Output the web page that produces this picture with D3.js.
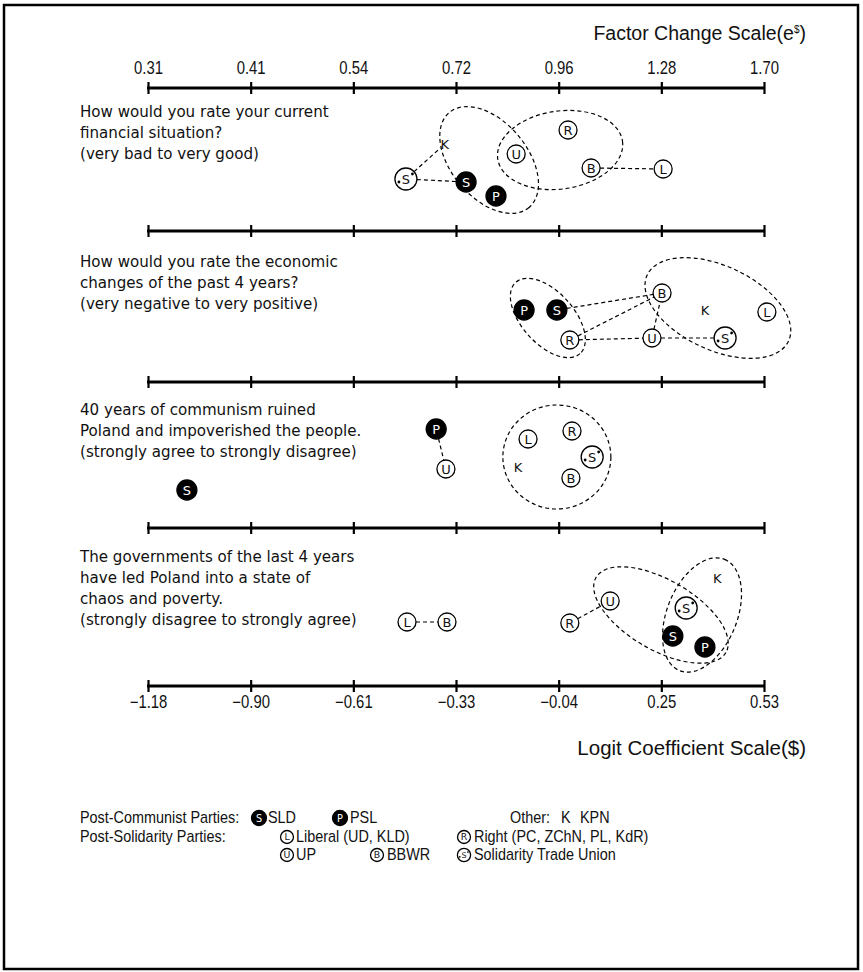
<!DOCTYPE html>
<html><head><meta charset="utf-8">
<script src="https://cdn.jsdelivr.net/npm/d3@7"></script>
<style>body{margin:0;background:#fff}</style>
</head><body>
<svg id="chart" width="863" height="972"></svg>
<script>
// ---- scale endpoints and tick labels ----
const logitMin = -1.18, logitMax = 0.53;
const logitTickLabels = ["\u22121.18", "\u22120.90", "\u22120.61", "\u22120.33", "\u22120.04", "0.25", "0.53"];
const factorTickLabels = ["0.31", "0.41", "0.54", "0.72", "0.96", "1.28", "1.70"];

// ---- questions (one per panel) ----
const questions = [
  ["How would you rate your current", "financial situation?", "(very bad to very good)"],
  ["How would you rate the economic", "changes of the past 4 years?", "(very negative to very positive)"],
  ["40 years of communism ruined", "Poland and impoverished the people.", "(strongly agree to strongly disagree)"],
  ["The governments of the last 4 years", "have led Poland into a state of", "chaos and poverty.", "(strongly disagree to strongly agree)"]
];

// ---- party codes: S=SLD, P=PSL, L=Liberal, R=Right, U=UP, B=BBWR, Sol=Solidarity, K=KPN ----
// logit coefficients per panel, plus a vertical lane (height above the panel's axis)
const panel1Parties = ["Sol", "K", "S", "P", "U", "R", "B", "L"];
const panel1Coef    = [-0.464, -0.356, -0.297, -0.214, -0.158, -0.014, 0.050, 0.250];
const panel1Lane    = [52, 87, 49, 35, 77, 101, 63, 62];
const panel1Links   = [["Sol", "K"], ["Sol", "S"], ["B", "L"]];

const panel2Parties = ["P", "S", "R", "B", "U", "K", "L", "Sol"];
const panel2Coef    = [-0.136, -0.045, -0.009, 0.247, 0.219, 0.366, 0.538, 0.422];
const panel2Lane    = [72, 72, 42, 89, 44, 72, 70, 44];
const panel2Links   = [["S", "B"], ["R", "B"], ["R", "U"], ["U", "B"], ["U", "Sol"]];

const panel3Parties = ["S", "P", "U", "L", "R", "Sol", "K", "B"];
const panel3Coef    = [-1.072, -0.380, -0.353, -0.125, -0.003, 0.053, -0.153, -0.006];
const panel3Lane    = [38, 99, 59, 89, 97, 71, 61, 50];
const panel3Links   = [["P", "U"]];

const panel4Parties = ["L", "B", "R", "U", "Sol", "S", "P", "K"];
const panel4Coef    = [-0.461, -0.350, -0.009, 0.103, 0.314, 0.277, 0.366, 0.400];
const panel4Lane    = [64, 64, 63, 85, 78, 50, 39, 108];
const panel4Links   = [["L", "B"], ["R", "U"]];

// group enclosures: [centre coefficient, centre lane, radius x, radius y, rotation deg]
const panel1Groups = [[-0.233, 71, 62, 38, 50], [-0.036, 81, 63, 39, -8]];
const panel2Groups = [[-0.070, 64, 48, 26, 48], [0.402, 74, 78, 42, 25]];
const panel3Groups = [[-0.045, 71, 54, 52, 0]];
const panel4Groups = [[0.244, 71, 75, 35, 30], [0.358, 71, 60, 35, -68]];

// ---- legend ----
const legendRow1 = [["S", "SLD"], ["P", "PSL"]];
const legendRow2 = [["L", "Liberal (UD, KLD)"], ["R", "Right (PC, ZChN, PL, KdR)"]];
const legendRow3 = [["U", "UP"], ["B", "BBWR"], ["Sol", "Solidarity Trade Union"]];

const panels = [
  {parties: panel1Parties, coef: panel1Coef, lane: panel1Lane, links: panel1Links, groups: panel1Groups},
  {parties: panel2Parties, coef: panel2Coef, lane: panel2Lane, links: panel2Links, groups: panel2Groups},
  {parties: panel3Parties, coef: panel3Coef, lane: panel3Lane, links: panel3Links, groups: panel3Groups},
  {parties: panel4Parties, coef: panel4Coef, lane: panel4Lane, links: panel4Links, groups: panel4Groups}
];

// ---- layout ----
const SANS = "'Liberation Sans',Arial,Helvetica,sans-serif";
const TEXT = "'DejaVu Sans',Verdana,sans-serif";
const axisY = [88, 231, 382, 528, 686];
const questionY = [117, 267, 415, 562];
const lineGap = 21;

const svg = d3.select("#chart");
svg.append("rect").attr("x", 4).attr("y", 5).attr("width", 854).attr("height", 964)
  .attr("fill", "none").attr("stroke", "#000").attr("stroke-width", 2.5);

const x = d3.scaleLinear().domain([logitMin, logitMax]).range([148, 764]);
const tickVals = d3.range(7).map(i => logitMin + i * (logitMax - logitMin) / 6);

function drawAxis(y, kind) {
  const ax = (kind === "top" ? d3.axisTop(x) : d3.axisBottom(x))
    .tickValues(tickVals).tickSizeOuter(0).tickSizeInner(6)
    .tickPadding(kind === "top" ? 8 : 4)
    .tickFormat((d, i) => kind === "top" ? factorTickLabels[i] : kind === "bottom" ? logitTickLabels[i] : "");
  const g = svg.append("g").attr("transform", `translate(0,${y})`).call(ax);
  g.attr("font-family", SANS).attr("font-size", 17.5);
  g.select(".domain").remove();
  g.append("line").attr("x1", x(logitMin) - 1).attr("x2", x(logitMax) + 1)
    .attr("stroke", "#000").attr("stroke-width", 3);
  g.selectAll(".tick line").attr("y1", -6).attr("y2", 6).attr("stroke", "#000").attr("stroke-width", 2.2);
  g.selectAll(".tick text").attr("fill", "#111").attr("transform", "scale(0.85,1)");
}

drawAxis(axisY[0], "top");
drawAxis(axisY[1], "mid");
drawAxis(axisY[2], "mid");
drawAxis(axisY[3], "mid");
drawAxis(axisY[4], "bottom");

// axis titles
const t1 = svg.append("text").attr("x", 806).attr("y", 40).attr("text-anchor", "end")
  .attr("font-family", SANS).attr("font-size", 19.5).attr("fill", "#111");
t1.append("tspan").text("Factor Change Scale(e");
t1.append("tspan").attr("font-size", 10).attr("dy", -7).text("$");
t1.append("tspan").attr("dy", 7).text(")");
svg.append("text").attr("x", 806).attr("y", 755).attr("text-anchor", "end")
  .attr("font-family", SANS).attr("font-size", 20.5).attr("fill", "#111")
  .text("Logit Coefficient Scale($)");

// symbol radii by kind
function radiusOf(code, k) {
  if (code === "Sol") return 11 * k;
  if (code === "S" || code === "P") return 10 * k;
  if (code === "K") return 6 * k;
  return 9 * k;
}

function drawSymbol(parent, code, cx, cy, k) {
  const g = parent.append("g").attr("transform", `translate(${cx},${cy})`);
  const fs = 13 * k;
  if (code === "K") {
    g.append("text").attr("text-anchor", "middle").attr("dy", "0.36em")
      .attr("font-family", TEXT).attr("font-size", fs).attr("fill", "#111").text("K");
    return;
  }
  const filled = code === "S" || code === "P";
  g.append("circle").attr("r", radiusOf(code, k))
    .attr("fill", filled ? "#000" : "#fff").attr("stroke", "#000").attr("stroke-width", 1.3);
  const letter = code === "Sol" ? "S" : code;
  g.append("text").attr("text-anchor", "middle").attr("dy", "0.36em")
    .attr("font-family", TEXT).attr("font-size", fs)
    .attr("fill", filled ? "#fff" : "#111").text(letter);
  if (code === "Sol") {
    g.append("circle").attr("cx", -7 * k).attr("cy", 3 * k).attr("r", 1.4 * k).attr("fill", "#000");
    g.append("circle").attr("cx", 6.5 * k).attr("cy", -5 * k).attr("r", 1.4 * k).attr("fill", "#000");
  }
}

panels.forEach((p, i) => {
  const base = axisY[i + 1];
  const y = d3.scaleLinear().domain([0, 100]).range([base, base - 100]);
  const g = svg.append("g");

  // question text
  const q = g.append("text").attr("font-family", TEXT).attr("font-size", 15.1).attr("fill", "#111");
  questions[i].forEach((line, j) => {
    q.append("tspan").attr("x", 80).attr("y", questionY[i] + j * lineGap).text(line);
  });

  const pos = {};
  p.parties.forEach((c, j) => { pos[c] = [x(p.coef[j]), y(p.lane[j])]; });

  // group ellipses
  const pxPerUnit = y(0) - y(1);
  g.selectAll("ellipse.grp").data(p.groups).join("ellipse").attr("class", "grp")
    .attr("cx", d => x(d[0])).attr("cy", d => y(d[1]))
    .attr("rx", d => d[2] * pxPerUnit).attr("ry", d => d[3] * pxPerUnit)
    .attr("transform", d => `rotate(${d[4]},${x(d[0])},${y(d[1])})`)
    .attr("fill", "none").attr("stroke", "#000").attr("stroke-width", 1.2)
    .attr("stroke-dasharray", "4,3");

  // dashed links between parties that are not significantly different
  p.links.forEach(([a, b]) => {
    const [x1, y1] = pos[a], [x2, y2] = pos[b];
    const len = Math.hypot(x2 - x1, y2 - y1);
    const ra = radiusOf(a, 1), rb = radiusOf(b, 1);
    const ux = (x2 - x1) / len, uy = (y2 - y1) / len;
    g.append("line")
      .attr("x1", x1 + ux * ra).attr("y1", y1 + uy * ra)
      .attr("x2", x2 - ux * rb).attr("y2", y2 - uy * rb)
      .attr("stroke", "#000").attr("stroke-width", 1.2).attr("stroke-dasharray", "4,3");
  });

  p.parties.forEach(c => drawSymbol(g, c, pos[c][0], pos[c][1], 1));
});

// ---- legend ----
const lg = svg.append("g").attr("font-family", SANS).attr("font-size", 16).attr("fill", "#111");
function legendText(xp, yp, s) {
  lg.append("text").attr("transform", `translate(${xp},${yp}) scale(0.9,1)`).text(s);
}

legendText(80, 823, "Post-Communist Parties:");
[[259, 268], [340, 350]].forEach(([sx, tx], i) => {
  drawSymbol(lg, legendRow1[i][0], sx, 818, 0.75);
  legendText(tx, 823, legendRow1[i][1]);
});
legendText(510, 823, "Other:");
legendText(561, 823, "K");
legendText(580, 823, "KPN");

legendText(80, 842, "Post-Solidarity Parties:");
[[287, 296], [464, 474]].forEach(([sx, tx], i) => {
  drawSymbol(lg, legendRow2[i][0], sx, 837, 0.72);
  legendText(tx, 842, legendRow2[i][1]);
});
[[287, 296], [377, 387], [464, 474]].forEach(([sx, tx], i) => {
  drawSymbol(lg, legendRow3[i][0], sx, 855, legendRow3[i][0] === "Sol" ? 0.6 : 0.72);
  legendText(tx, 860, legendRow3[i][1]);
});
</script>
</body></html>
